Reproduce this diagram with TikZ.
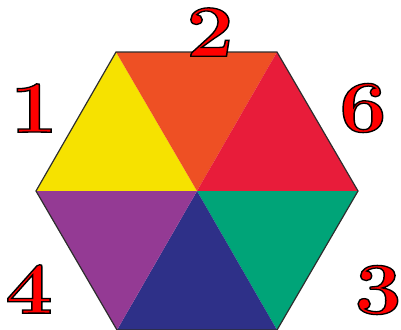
\documentclass[tikz,border=0pt]{standalone}
\usepackage{xcolor}
\definecolor{cyel}{RGB}{246,226,0}
\definecolor{corg}{RGB}{238,80,36}
\definecolor{cred}{RGB}{232,28,58}
\definecolor{cgrn}{RGB}{0,164,120}
\definecolor{cblu}{RGB}{46,48,136}
\definecolor{cpur}{RGB}{148,58,148}
\definecolor{cedge}{RGB}{45,45,45}
\newcommand{\outl}[1]{\special{pdf:literal 0 0 0 RG 1.3 w 2 Tr}#1\special{pdf:literal 0 Tr}}
\tikzset{
  num/.style={inner sep=0pt, text=red, font=\fontsize{74}{74}\selectfont\bfseries, xscale=1.15, transform shape}
}
\begin{document}
\begin{tikzpicture}[x=1bp,y=-1bp]
\useasboundingbox (0,0) rectangle (401,330);
\coordinate (c) at (197,191);
\coordinate (tl) at (116,52);
\coordinate (tr) at (277,52);
\coordinate (r) at (358,191);
\coordinate (br) at (277,330);
\coordinate (bl) at (117,330);
\coordinate (l) at (36,191);
\fill[cyel] (tl) -- (l) -- (c) -- cycle;
\fill[corg] (tl) -- (tr) -- (c) -- cycle;
\fill[cred] (tr) -- (r) -- (c) -- cycle;
\fill[cgrn] (r) -- (br) -- (c) -- cycle;
\fill[cblu] (br) -- (bl) -- (c) -- cycle;
\fill[cpur] (bl) -- (l) -- (c) -- cycle;
\draw[cedge, line width=1.2pt, line join=miter] (tl) -- (tr) -- (r) -- (br) -- (bl) -- (l) -- cycle;
\node[num] (n2) at (210,32) {\outl{2}};
\node[num] (n1) at (34,108) {\outl{1}};
\node[num] (n6) at (363,108) {\outl{6}};
\node[num] (n4) at (29,289) {\outl{4}};
\node[num] (n3) at (378,290) {\outl{3}};
\end{tikzpicture}
\end{document}
